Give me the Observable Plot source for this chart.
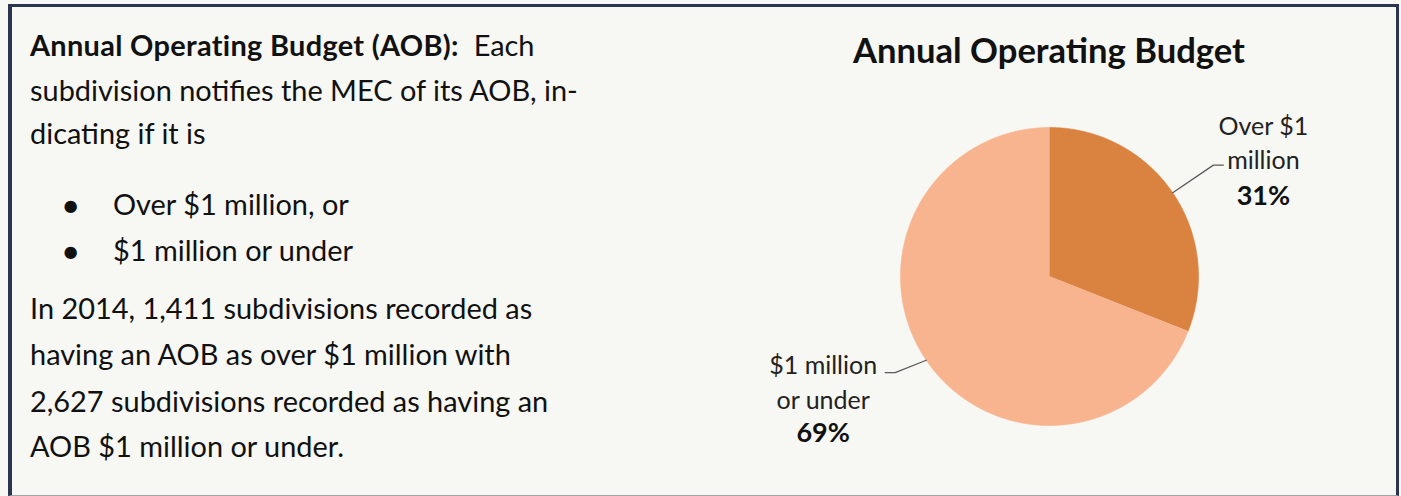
<!DOCTYPE html>
<html>
<head>
<meta charset="utf-8">
<script src="https://cdn.jsdelivr.net/npm/d3@7"></script>
<script src="https://cdn.jsdelivr.net/npm/@observablehq/plot@0.6"></script>
<style>
html, body { margin: 0; padding: 0; background: #f7f7f3; }
body { width: 1401px; height: 496px; position: relative; overflow: hidden; font-family: Lato, "Open Sans", sans-serif; color: #111; }
#frame { position: absolute; left: 8px; top: 4px; width: 1391px; height: 492px; box-sizing: border-box;
  border-left: 4px solid #2b3550; border-top: 3px solid #2b3550; border-right: 3px solid #2b3550; border-bottom: 1px solid #a3a3a3; }
.line { position: absolute; left: 30px; white-space: nowrap; }
.bullet { position: absolute; left: 61px; }
#title { position: absolute; white-space: nowrap; font-weight: 700; }
#chart { position: absolute; left: 700px; top: 90px; }
</style>
</head>
<body>
<div id="frame"></div>
<div id="text"></div>
<div id="title"></div>
<div id="chart"></div>
<script>
// ---- data ----
const categories = ["Over $1 million", "$1 million or under"];
const labelLines = ["Over $1\nmillion", "$1 million\nor under"];
const shares = [31, 69];          // percent shown in the pie
const counts = [1411, 2627];      // subdivisions per category (2014)
const year = 2014;
const chartTitle = "Annual Operating Budget";
const colors = ["#da823f", "#f7b48f"];

// ---- left text panel ----
const fmt = d3.format(",");
const textLines = [
  {html: "<b>Annual Operating Budget (AOB):</b>&nbsp; Each", y: 47},
  {html: "subdivision notifies the MEC of its AOB, in-", y: 92},
  {html: "dicating if it is", y: 135},
  {html: "Over $1 million, or", y: 206, bullet: true},
  {html: "$1 million or under", y: 252, bullet: true},
  {html: `In ${year}, ${fmt(counts[0])} subdivisions recorded as`, y: 310},
  {html: "having an AOB as over $1 million with", y: 356},
  {html: `${fmt(counts[1])} subdivisions recorded as having an`, y: 403},
  {html: "AOB $1 million or under.", y: 448}
];
const textDiv = document.getElementById("text");
const lineEls = [];
for (const l of textLines) {
  const d = document.createElement("div");
  d.className = "line";
  if (l.bullet) {
    d.style.left = "113px";
    const b = document.createElement("div");
    b.className = "bullet";
    b.textContent = "•";
    b.dataset.y = l.y;
    textDiv.appendChild(b);
    lineEls.push({el: b, y: l.y, bullet: true});
  }
  d.innerHTML = l.html;
  textDiv.appendChild(d);
  lineEls.push({el: d, y: l.y});
}
// fit body font so that the 2nd line spans its width in the reference
const probe = lineEls.find(e => e.el.textContent.startsWith("subdivision")).el;
probe.style.fontSize = "25px";
const fs = 25 * 548 / probe.getBoundingClientRect().width;
for (const e of lineEls) {
  const size = e.bullet ? fs * 1.15 : fs;
  e.el.style.fontSize = size + "px";
  e.el.style.lineHeight = (size * 1.2) + "px";
  e.el.style.top = (e.y - size * 0.64) + "px";
}
// widen the bold lead-in (Calibri bold is wider than Lato bold)
const first = lineEls[0].el;
const boldEl = first.querySelector("b");
const extra = 505 - first.getBoundingClientRect().width;
boldEl.style.letterSpacing = Math.max(0, extra / boldEl.textContent.length) + "px";

// title fitted to reference width, centred over the pie
const titleEl = document.getElementById("title");
titleEl.textContent = chartTitle;
titleEl.style.fontSize = "30px";
const tfs = 30 * 392 / titleEl.getBoundingClientRect().width;
titleEl.style.fontSize = tfs + "px";
titleEl.style.lineHeight = (tfs * 1.2) + "px";
titleEl.style.left = (1049 - titleEl.getBoundingClientRect().width / 2) + "px";
titleEl.style.top = (52 - tfs * 0.66) + "px";

// ---- pie layout (pixels) ----
const R = 149, W = 690, H = 400, boxLeft = 700, boxTop = 90, cx = 1049, cy = 276;
const xDomain = [(boxLeft - cx) / R, (boxLeft + W - cx) / R];
const yDomain = [-(boxTop + H - cy) / R, (cy - boxTop) / R];

const arcs = d3.pie().sort(null).value(d => d)(shares);
const slicePts = [];
arcs.forEach((p, i) => {
  slicePts.push({cat: categories[i], x: 0, y: 0});
  const n = Math.max(2, Math.ceil((p.endAngle - p.startAngle) / (Math.PI / 360)));
  for (let k = 0; k <= n; k++) {
    const a = p.startAngle + (p.endAngle - p.startAngle) * k / n;
    slicePts.push({cat: categories[i], x: Math.sin(a), y: Math.cos(a)});
  }
});

// leader lines + label placement (style/layout)
const leaderR = [1.33, 1.22];
const elbowTurn = [0, 2.3 * Math.PI / 180];
const hook = 10 / R;
const labelOffset = [
  {dx: 40, dyText: -24, dyPct: 31},
  {dx: -62, dyText: 8, dyPct: 61}
];
const leaders = [];
const labelAnchors = [];
arcs.forEach((p, i) => {
  const m = (p.startAngle + p.endAngle) / 2;
  const s = Math.sign(Math.sin(m));
  const me = m + elbowTurn[i];
  const ex = leaderR[i] * Math.sin(me), ey = leaderR[i] * Math.cos(me);
  leaders.push({cat: categories[i], x: Math.sin(m), y: Math.cos(m)});
  leaders.push({cat: categories[i], x: ex, y: ey});
  leaders.push({cat: categories[i], x: ex + s * hook, y: ey});
  labelAnchors.push({x: ex + s * hook, y: ey, text: labelLines[i], pct: Math.round(shares[i]) + "%"});
});

const labelMarks = labelAnchors.flatMap((a, i) => [
  Plot.text([a], {x: "x", y: "y", text: "text", dx: labelOffset[i].dx, dy: labelOffset[i].dyText,
    fontSize: 25, lineHeight: 1.38, fill: "#222", textAnchor: "middle"}),
  Plot.text([a], {x: "x", y: "y", text: "pct", dx: labelOffset[i].dx, dy: labelOffset[i].dyPct,
    fontSize: 27, fontWeight: "bold", fill: "#111", textAnchor: "middle"})
]);

const chart = Plot.plot({
  width: W, height: H, margin: 0,
  style: {background: "transparent", fontFamily: "Lato, 'Open Sans', sans-serif"},
  x: {domain: xDomain, axis: null},
  y: {domain: yDomain, axis: null},
  color: {domain: categories, range: colors},
  marks: [
    Plot.line(slicePts, {x: "x", y: "y", z: "cat", fill: "cat", stroke: "cat", strokeWidth: 0.6, curve: "linear"}),
    Plot.line(leaders, {x: "x", y: "y", z: "cat", stroke: "#5a5a5a", strokeWidth: 1.3, curve: "linear"}),
    ...labelMarks
  ]
});
document.getElementById("chart").appendChild(chart);
</script>
</body>
</html>
